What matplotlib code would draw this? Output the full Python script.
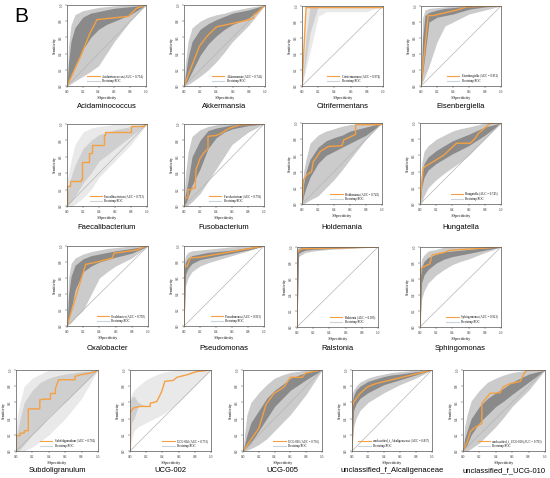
import matplotlib
matplotlib.use("Agg")
import matplotlib.pyplot as plt
from matplotlib.lines import Line2D

# ---------------- data ----------------
names = ["Acidaminococcus", "Akkermansia", "Citrifermentans", "Eisenbergiella",
         "Faecalibacterium", "Fusobacterium", "Holdemania", "Hungatella",
         "Oxalobacter", "Pseudomonas", "Ralstonia", "Sphingomonas",
         "Subdoligranulum", "UCG-002", "UCG-005",
         "unclassified_f_Alcaligenaceae", "unclassified_f_UCG-010"]

auc = [0.754, 0.741, 0.974, 0.912, 0.713, 0.791, 0.742, 0.745, 0.793,
       0.913, 0.983, 0.921, 0.702, 0.752, 0.706, 0.837, 0.703]

# 1-specificity grid for the bootstrap envelopes
fpr_grid = [0, 0.02, 0.05, 0.1, 0.2, 0.3, 0.4, 0.5, 0.6, 0.8, 1.0]

outer_hi = [
    [0, .5, .75, .88, .93, .95, .97, .98, .99, 1, 1],
    [0, .3, .55, .72, .8, .85, .88, .9, .93, .97, 1],
    [0, .4, 1, 1, 1, 1, 1, 1, 1, 1, 1],
    [0, .85, .95, .97, .98, .99, 1, 1, 1, 1, 1],
    [.3, .4, .55, .75, .9, .95, .97, .98, 1, 1, 1],
    [.1, .4, .65, .85, .93, .97, .99, 1, 1, 1, 1],
    [.1, .4, .55, .75, .85, .9, .93, .96, .98, 1, 1],
    [.1, .5, .65, .72, .8, .85, .9, .93, .95, 1, 1],
    [0, .6, .78, .85, .9, .93, .95, .97, .98, 1, 1],
    [.8, .88, .92, .94, .95, .96, .97, .98, .99, 1, 1],
    [.97, 1, 1, 1, 1, 1, 1, 1, 1, 1, 1],
    [.7, .85, .9, .95, .97, 1, 1, 1, 1, 1, 1],
    [.3, .45, .6, .8, .9, .95, 1, 1, 1, 1, 1],
    [.65, .7, .75, .8, .88, .93, .97, .99, 1, 1, 1],
    [0, .2, .45, .6, .72, .82, .9, .94, .97, 1, 1],
    [.7, .75, .8, .85, .9, .93, .95, .97, .98, 1, 1],
    [0, .3, .45, .62, .75, .85, .9, .94, .97, 1, 1],
]
outer_lo = [
    [0, .01, .03, .06, .12, .18, .25, .4, .55, .8, 1],
    [0, .01, .02, .05, .12, .2, .3, .42, .55, .75, 1],
    [0, .09, .22, .43, .87, .93, .93, .93, .93, .93, 1],
    [0, .05, .12, .25, .55, .75, .8, .85, .9, .95, 1],
    [0, 0, 0, .02, .1, .2, .35, .45, .55, .75, 1],
    [0, 0, .01, .05, .15, .3, .45, .6, .75, .9, 1],
    [0, 0, .02, .05, .1, .2, .3, .42, .55, .8, 1],
    [0, .02, .1, .2, .3, .38, .45, .52, .6, .8, 1],
    [0, .02, .04, .1, .2, .4, .6, .68, .75, .85, 1],
    [0, .5, .6, .68, .75, .79, .82, .85, .88, .94, 1],
    [0, .88, .9, .93, .95, .96, .97, .975, .98, .99, 1],
    [0, .35, .45, .55, .65, .72, .78, .82, .85, .93, 1],
    [0, 0, 0, 0, .05, .12, .2, .3, .4, .65, 1],
    [0, .15, .25, .3, .35, .4, .45, .52, .6, .8, 1],
    [0, 0, .01, .03, .08, .15, .25, .35, .45, .7, 1],
    [0, .3, .4, .5, .6, .66, .72, .77, .82, .9, 1],
    [0, 0, 0, .03, .1, .2, .3, .42, .55, .75, 1],
]
inner_hi = [
    [0, .3, .55, .72, .85, .9, .92, .94, .96, .98, 1],
    [0, .15, .35, .55, .7, .77, .82, .86, .9, .94, 1],
    [0, .25, .62, 1, 1, 1, 1, 1, 1, 1, 1],
    [0, .6, .88, .92, .95, .97, .98, .99, 1, 1, 1],
    [.15, .25, .35, .5, .7, .8, .87, .9, .93, .97, 1],
    [0, .15, .3, .6, .8, .92, .95, .97, .99, 1, 1],
    [0, .25, .4, .55, .7, .78, .82, .85, .9, .95, 1],
    [0, .38, .5, .58, .66, .72, .78, .82, .86, .95, 1],
    [0, .4, .62, .76, .84, .88, .9, .92, .94, .97, 1],
    [.7, .8, .85, .88, .9, .92, .93, .94, .95, .98, 1],
    [.95, .98, .99, .995, 1, 1, 1, 1, 1, 1, 1],
    [.6, .75, .82, .87, .91, .94, .95, .96, .97, .99, 1],
    [.15, .25, .4, .6, .75, .85, .9, .93, .95, .98, 1],
    [.62, .66, .68, .6, .55, .6, .7, .8, .88, .96, 1],
    [0, .08, .2, .35, .5, .65, .75, .82, .9, .97, 1],
    [.6, .68, .75, .8, .86, .89, .92, .94, .95, .98, 1],
    [0, .15, .25, .4, .55, .65, .72, .78, .85, .95, 1],
]
inner_lo = [
    [0, .05, .12, .25, .45, .6, .7, .76, .8, .88, 1],
    [0, .03, .08, .18, .38, .52, .62, .7, .76, .84, 1],
    [0, .13, .33, .67, 1, 1, 1, 1, 1, 1, 1],
    [0, .15, .4, .8, .86, .88, .9, .93, .96, .99, 1],
    [0, .02, .05, .12, .28, .4, .55, .62, .7, .85, 1],
    [0, .03, .1, .25, .45, .7, .83, .9, .94, .98, 1],
    [0, .1, .2, .33, .5, .6, .65, .7, .75, .85, 1],
    [0, .2, .33, .42, .5, .56, .62, .67, .72, .85, 1],
    [0, .08, .2, .45, .68, .75, .8, .83, .86, .91, 1],
    [0, .65, .72, .78, .83, .85, .87, .89, .91, .95, 1],
    [0, .92, .94, .96, .97, .975, .98, .985, .99, .995, 1],
    [0, .55, .65, .72, .8, .85, .88, .9, .92, .96, 1],
    [0, 0, .02, .08, .2, .3, .42, .52, .6, .8, 1],
    [0, .35, .4, .55, .55, .6, .7, .8, .88, .96, 1],
    [0, .02, .05, .1, .25, .4, .55, .65, .75, .88, 1],
    [0, .5, .58, .65, .72, .77, .82, .85, .88, .94, 1],
    [0, .03, .08, .2, .35, .45, .55, .62, .7, .85, 1],
]

roc_x = [
    [0, .17, .29, .38, .78, .88, 1],
    [0, .19, .28, .4, .77, .86, .86, .9, .95, 1],
    [0, .05, 1, 1],
    [0, .09, .15, .32, .45, .57, 1],
    [0, 0, .04, .04, .17, .17, .19, .19, .28, .28, .31, .31, .46, .46, .47, .47, .8, .8, .96, .96, 1],
    [0, 0, .05, .05, .1, .1, .14, .15, .18, .2, .25, .3, .3, .4, .45, .57, .7, 1],
    [0, .02, .06, .12, .14, .19, .23, .33, .5, .52, .67, .67, 1, 1],
    [0, .04, .06, .29, .45, .62, .68, .72, .79, .87, 1],
    [0, .23, .37, .56, .58, .86, .95, 1],
    [0, 0, .04, .08, .2, 1],
    [0, 0, .03, .07, .16, 1],
    [0, 0, .01, .04, .12, .15, .29, .37, 1],
    [0, 0, .05, .05, .1, .1, .15, .15, .29, .29, .33, .42, .42, .48, .48, .52, .72, .72, .78, .9, .96, 1],
    [0, 0, .02, .04, .12, .25, .25, .33, .35, .39, .43, .53, .58, .7, .82, 1],
    [0, .2, .29, .39, .52, .6, .75, .79, .92, 1],
    [0, 0, .02, .1, .19, .29, 1],
    [0, .05, .09, .13, .23, .23, .33, .45, .49, .57, .7, .74, .78, 1],
]
roc_y = [
    [0, .36, .65, .82, .86, .96, 1],
    [0, .49, .61, .73, .81, .84, .88, .9, .95, 1],
    [0, .98, .98, 1],
    [0, .88, .88, .92, .95, .99, 1],
    [0, .25, .25, .3, .3, .33, .33, .54, .54, .65, .65, .75, .75, .87, .87, .9, .9, .97, .97, 1, 1],
    [0, .1, .1, .2, .2, .22, .22, .45, .52, .58, .65, .7, .85, .86, .88, .95, .99, 1],
    [0, .3, .36, .4, .52, .59, .65, .71, .72, .79, .86, .98, .98, 1],
    [0, .44, .46, .6, .75, .75, .81, .87, .93, 1, 1],
    [0, .77, .8, .85, .91, .95, .99, 1],
    [0, .73, .75, .85, .86, 1],
    [0, .92, .96, .98, .98, 1],
    [0, .58, .73, .75, .79, .9, .93, .96, 1],
    [0, .19, .19, .22, .22, .25, .25, .52, .52, .63, .64, .64, .71, .71, .77, .88, .88, .92, .94, .96, .98, 1],
    [0, .47, .5, .53, .55, .55, .59, .61, .65, .73, .86, .87, .91, .94, .98, 1],
    [0, .28, .57, .71, .79, .91, .91, .96, .99, 1],
    [0, .54, .6, .71, .79, .83, 1],
    [0, .11, .24, .28, .34, .59, .71, .72, .79, .83, .86, .95, 1, 1],
]

sparse = [False, False, True, False, True, False, False, False,
          False, False, False, False, True, True, False, False, False]

ticks = [0.0, 0.2, 0.4, 0.6, 0.8, 1.0]
tick_labels = ["0.0", "0.2", "0.4", "0.6", "0.8", "1.0"]

# ---------------- layout (pixels: x0, x1, ytop, ybottom, title y) ----------------
boxes = [
    (67, 146, 5, 86, 106), (184, 265, 5, 86, 106), (302, 383, 6, 86, 106), (421, 501, 6, 86, 106),
    (67, 147, 124, 206, 227), (184, 264, 124, 206, 227), (302, 382, 123, 204, 227), (420, 501, 123, 204, 227),
    (67, 148, 246, 326, 348), (184, 264, 246, 326, 348), (297, 378, 247, 327, 348), (420, 501, 247, 327, 348),
    (16, 98, 370, 451, 471), (130, 211, 370, 451, 471), (243, 322, 370, 451, 471),
    (352, 432, 370, 451, 471), (463, 545, 370, 451, 471),
]

W, H = 550, 478
fig = plt.figure(figsize=(W / 100, H / 100), dpi=100)
fig.patch.set_facecolor("white")

ORANGE = "#f5a042"
small_font = "Liberation Serif"

for i, name in enumerate(names):
    x0, x1, yt, yb, ty = boxes[i]
    ax = fig.add_axes([x0 / W, 1 - yb / H, (x1 - x0) / W, (yb - yt) / H])
    if sparse[i]:
        c_out, c_in = "#e9e9e9", "#cfcfcf"
    else:
        c_out, c_in = "#cbcbcb", "#8a8a8a"
    ax.fill_between(fpr_grid, outer_lo[i], outer_hi[i], color=c_out, lw=0)
    ax.fill_between(fpr_grid, inner_lo[i], inner_hi[i], color=c_in, lw=0)
    ax.plot([0, 1], [0, 1], color="#b5b5b5", lw=0.5)
    ax.plot(roc_x[i], roc_y[i], color=ORANGE, lw=1.0, solid_joinstyle="miter")
    ax.set_xlim(0, 1)
    ax.set_ylim(0, 1)
    ax.set_xticks(ticks)
    ax.set_yticks(ticks)
    ax.set_xticklabels(tick_labels, fontsize=2.6, family=small_font)
    ax.set_yticklabels(tick_labels, fontsize=2.6, family=small_font, rotation=90, va="center")
    ax.tick_params(length=1.5, width=0.3, pad=1.2, colors="#333333")
    for s in ax.spines.values():
        s.set_linewidth(0.5)
        s.set_color("#555555")
    ax.set_xlabel("1-Specificity", fontsize=2.8, family=small_font, labelpad=1.5)
    ax.set_ylabel("Sensitivity", fontsize=2.8, family=small_font, labelpad=1.5)
    handles = [Line2D([0], [0], color=ORANGE, lw=0.8),
               Line2D([0], [0], color="#c9d3dc", lw=0.8)]
    labels = [f"{name} (AUC = {auc[i]:.3f})", "Bootstrap ROC"]
    ax.legend(handles, labels, loc="lower right", frameon=False,
              handlelength=4, borderaxespad=0.6, labelspacing=0.3,
              prop={"family": small_font, "size": 2.2})
    fig.text(((x0 + x1) / 2) / W, 1 - ty / H, name, ha="center", va="center",
             fontsize=5.5, family="Liberation Sans")

fig.text(14 / W, 1 - 16 / H, "B", fontsize=15, family="Liberation Sans", va="center", ha="left")

fig.savefig("out.png", dpi=100)
